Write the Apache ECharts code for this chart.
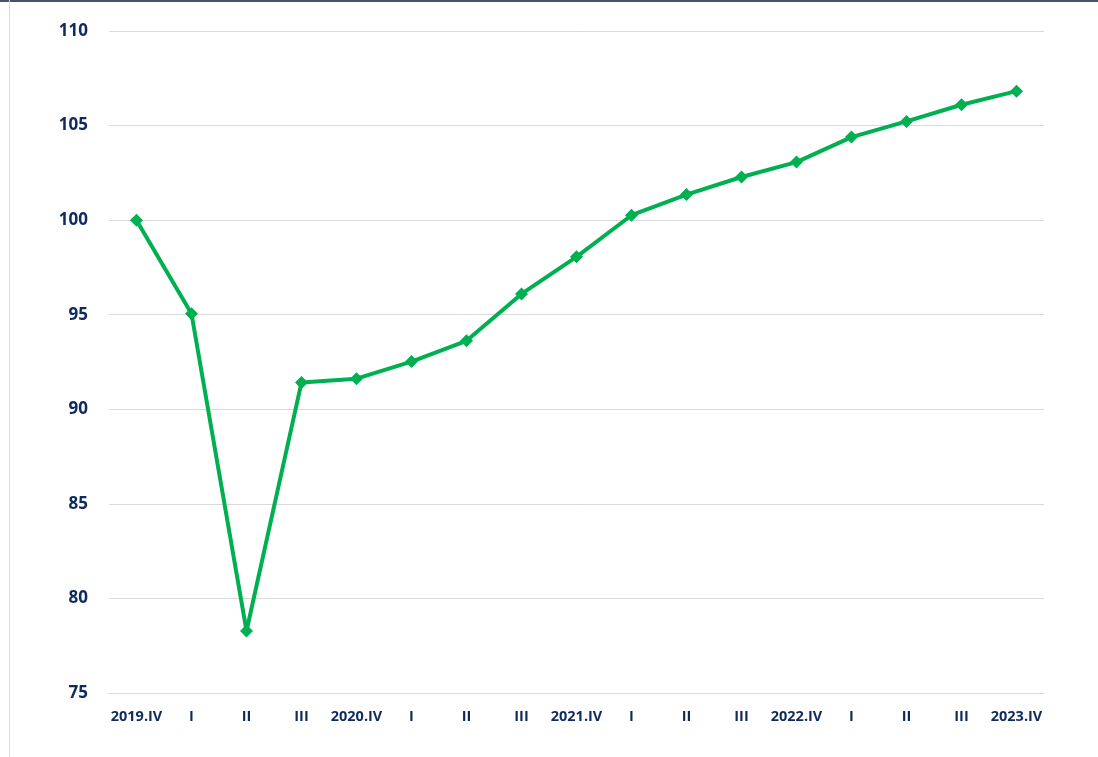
<!DOCTYPE html>
<html><head><meta charset="utf-8">
<script src="https://cdn.jsdelivr.net/npm/echarts@6/dist/echarts.min.js"></script>
<style>html,body{margin:0;padding:0;background:#fff}#c{width:1098px;height:757px}</style>
</head><body><div id="c"></div>
<script>
const categories = ["2019.IV","I","II","III","2020.IV","I","II","III","2021.IV","I","II","III","2022.IV","I","II","III","2023.IV"];
const values = [100.0, 95.05, 78.28, 91.42, 91.62, 92.52, 93.62, 96.1, 98.06, 100.26, 101.35, 102.28, 103.07, 104.39, 105.22, 106.1, 106.82];
const yTicks = [75, 80, 85, 90, 95, 100, 105, 110];

const chart = echarts.init(document.getElementById('c'));
chart.setOption({
  animation: false,
  grid: { left: 109, right: 54, top: 31, bottom: 64 },
  graphic: [
    { type: 'rect', shape: { x: 0, y: 0, width: 1098, height: 2 }, style: { fill: '#44546A' } },
    { type: 'rect', shape: { x: 9, y: 0, width: 1, height: 757 }, style: { fill: '#D9D9D9' } }
  ],
  xAxis: {
    type: 'category', data: categories, boundaryGap: true,
    axisLine: { show: true, lineStyle: { color: '#D9D9D9', width: 1 } },
    axisTick: { show: false },
    axisLabel: { color: '#0E2A5E', fontWeight: 'bold', fontSize: 14.5, fontFamily: 'Open Sans', margin: 16, interval: 0 }
  },
  yAxis: {
    type: 'value', min: yTicks[0], max: yTicks[yTicks.length - 1], interval: 5,
    axisLine: { show: false }, axisTick: { show: false },
    splitLine: { lineStyle: { color: '#D9D9D9', width: 1 } },
    axisLabel: { color: '#0E2A5E', fontWeight: 'bold', fontSize: 17, fontFamily: 'Open Sans', margin: 21 }
  },
  series: [{
    type: 'line', data: values,
    symbol: 'diamond', symbolSize: 13,
    lineStyle: { color: '#00B050', width: 4 },
    itemStyle: { color: '#00B050' }
  }]
});
</script></body></html>
